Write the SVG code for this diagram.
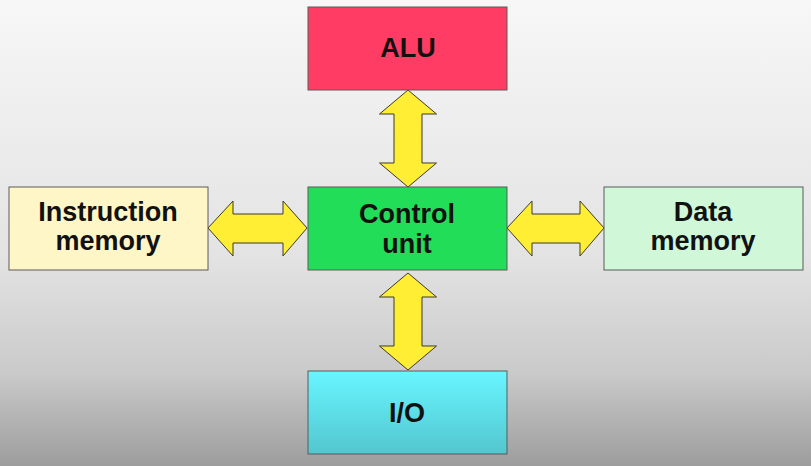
<svg xmlns="http://www.w3.org/2000/svg" width="811" height="466" viewBox="0 0 811 466">
<defs>
<linearGradient id="bg" x1="0" y1="0" x2="0" y2="1">
<stop offset="0" stop-color="#f7f7f7"/>
<stop offset="0.55" stop-color="#e3e3e3"/>
<stop offset="0.8" stop-color="#cacaca"/>
<stop offset="1" stop-color="#9d9d9d"/>
</linearGradient>
<linearGradient id="io" x1="0" y1="0" x2="0" y2="1">
<stop offset="0" stop-color="#68f6ff"/>
<stop offset="1" stop-color="#53c6cf"/>
</linearGradient>
<style>
.box{stroke:#5a5a5a;stroke-width:1}
.lbl{font-family:"Liberation Sans",Arial,sans-serif;font-weight:bold;font-size:27px;fill:#111;text-anchor:middle}
.arr{fill:#ffee33;stroke:#3a3a2a;stroke-width:1;stroke-linejoin:miter}
</style>
</defs>
<rect width="811" height="466" fill="url(#bg)"/>
<g id="connectors">
<polygon class="arr" points="408,90 436.5,114 422,114 422,163 436.5,163 408,187 379.5,163 394,163 394,114 379.5,114"/>
<polygon class="arr" points="408,273 436.5,297 422,297 422,346 436.5,346 408,370 379.5,346 394,346 394,297 379.5,297"/>
<polygon class="arr" points="208,228 233,201 233,214 283,214 283,201 307,228 283,256 283,243 233,243 233,256"/>
<polygon class="arr" points="507,228 532,201 532,214 580,214 580,201 604,228 580,256 580,243 532,243 532,256"/>
</g>
<g id="alu">
<rect class="box" x="308" y="7" width="199" height="83" fill="#ff3c63"/>
<text class="lbl" x="408" y="57">ALU</text>
</g>
<g id="control">
<rect class="box" x="308" y="187" width="199" height="83" fill="#22dd57"/>
<text class="lbl" x="407" y="223">Control</text>
<text class="lbl" x="407" y="253">unit</text>
</g>
<g id="imem">
<rect class="box" x="9" y="187" width="199" height="83" fill="#fff6c8"/>
<text class="lbl" x="108" y="221">Instruction</text>
<text class="lbl" x="108" y="250">memory</text>
</g>
<g id="dmem">
<rect class="box" x="604" y="187" width="199" height="83" fill="#d0f7d8"/>
<text class="lbl" x="703" y="221">Data</text>
<text class="lbl" x="703" y="250">memory</text>
</g>
<g id="io-node">
<rect class="box" x="308" y="371" width="199" height="83" fill="url(#io)"/>
<text class="lbl" x="407" y="422">I/O</text>
</g>
</svg>
